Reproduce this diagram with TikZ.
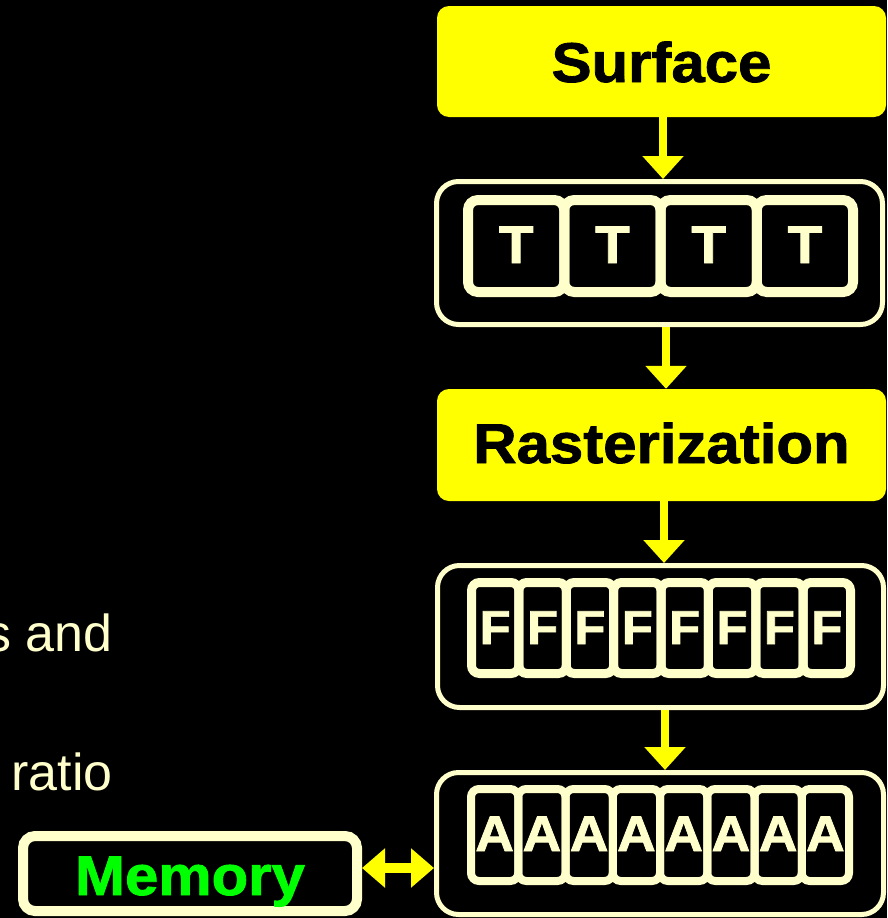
\documentclass[tikz,border=0pt]{standalone}
\usepackage{fontspec}
\setmainfont{Liberation Sans}
\newfontfamily\widebf[FakeStretch=1.07,FakeBold=1.5]{Liberation Sans Bold}
\usetikzlibrary{arrows.meta}
\definecolor{cream}{HTML}{FFFFCC}
\definecolor{yel}{HTML}{FFFF00}
\definecolor{grn}{HTML}{00FF00}
\tikzset{
  stage/.style={fill=yel, rounded corners=12pt, minimum width=449pt, inner sep=0pt,
    font=\widebf\fontsize{56}{56}\selectfont, text=black},
  holder/.style={draw=cream, line width=5pt, rounded corners=22pt, inner sep=0pt, minimum width=446pt, minimum height=142pt},
  tcell/.style={draw=cream, line width=10pt, rounded corners=10pt, inner sep=0pt, minimum width=96.25pt, minimum height=92pt,
    text=cream, font=\widebf\fontsize{53}{53}\selectfont, text height=34pt, text depth=0pt},
  fcell/.style={draw=cream, line width=9pt, rounded corners=8pt, inner sep=0pt, minimum width=47.375pt, minimum height=91pt,
    text=cream, font=\widebf\fontsize{47.5}{47.5}\selectfont, text height=32pt, text depth=0pt},
  acell/.style={draw=cream, line width=8pt, rounded corners=8pt, inner sep=0pt, minimum width=47.25pt, minimum height=92pt,
    text=cream, font=\widebf\fontsize{50}{50}\selectfont, text height=32pt, text depth=0pt},
  arr/.style={draw=yel, line width=8pt, -{Triangle[length=23pt,width=40pt]}},
  dblarr/.style={draw=yel, line width=10pt, {Triangle[length=23pt,width=38pt]}-{Triangle[length=23pt,width=38pt]}},
  sidetext/.style={text=cream, font=\fontsize{52}{52}\selectfont, inner sep=0pt, anchor=base east}
}
\begin{document}
\begin{tikzpicture}[x=1pt,y=-1pt]
\fill[black] (0,0) rectangle (887,918);
\useasboundingbox (0,0) rectangle (887,918);

% stage boxes
\node[stage, minimum height=111pt, text height=41pt, text depth=0pt] (surf) at (661.5,61.5) {Surface};
\node[stage, minimum height=112pt, text height=36pt, text depth=0pt] (ras) at (661.5,445) {Rasterization};

% T holder
\node[holder, minimum height=143pt] (tb) at (659.5,253) {};
\foreach \i in {1,...,4}{
  \node[tcell] (t\i) at ({468+96.25*(\i-0.5)},246) {T};
}

% F holder
\node[holder] (fb) at (660.5,636.5) {};
\foreach \i in {1,...,8}{
  \node[fcell] (f\i) at ({471.5+47.375*(\i-0.5)},628) {F};
}

% A holder
\node[holder, minimum width=447pt] (ab) at (660,843.5) {};
\foreach \i in {1,...,8}{
  \node[acell] (a\i) at ({471+47.25*(\i-0.5)},835) {A};
}

% memory
\node[draw=cream, line width=10pt, rounded corners=12pt, minimum width=334pt, minimum height=75pt, inner sep=0pt,
  text=grn, font=\widebf\fontsize{56}{56}\selectfont, text height=43pt, text depth=0pt] (mem) at (190,873.5) {Memory};

% side text
\node[sidetext] (s1) at (112.5,651) {s and};
\node[sidetext] (s2) at (113,790) {ratio};

% arrows
\draw[arr] ([xshift=1.5pt]surf.south) -- ([xshift=1.5pt]surf.south |- tb.north);
\draw[arr] ([xshift=6.5pt]tb.south) -- ([xshift=6.5pt]tb.south |- ras.north);
\draw[arr] ([xshift=2.5pt]ras.south) -- ([xshift=2.5pt]ras.south |- fb.north);
\draw[arr] ([xshift=4.5pt]fb.south) -- ([xshift=4.5pt]fb.south |- ab.north);
\draw[dblarr] ([yshift=5.5pt]mem.east) -- ([yshift=5.5pt]mem.east -| ab.west);
\end{tikzpicture}
\end{document}
